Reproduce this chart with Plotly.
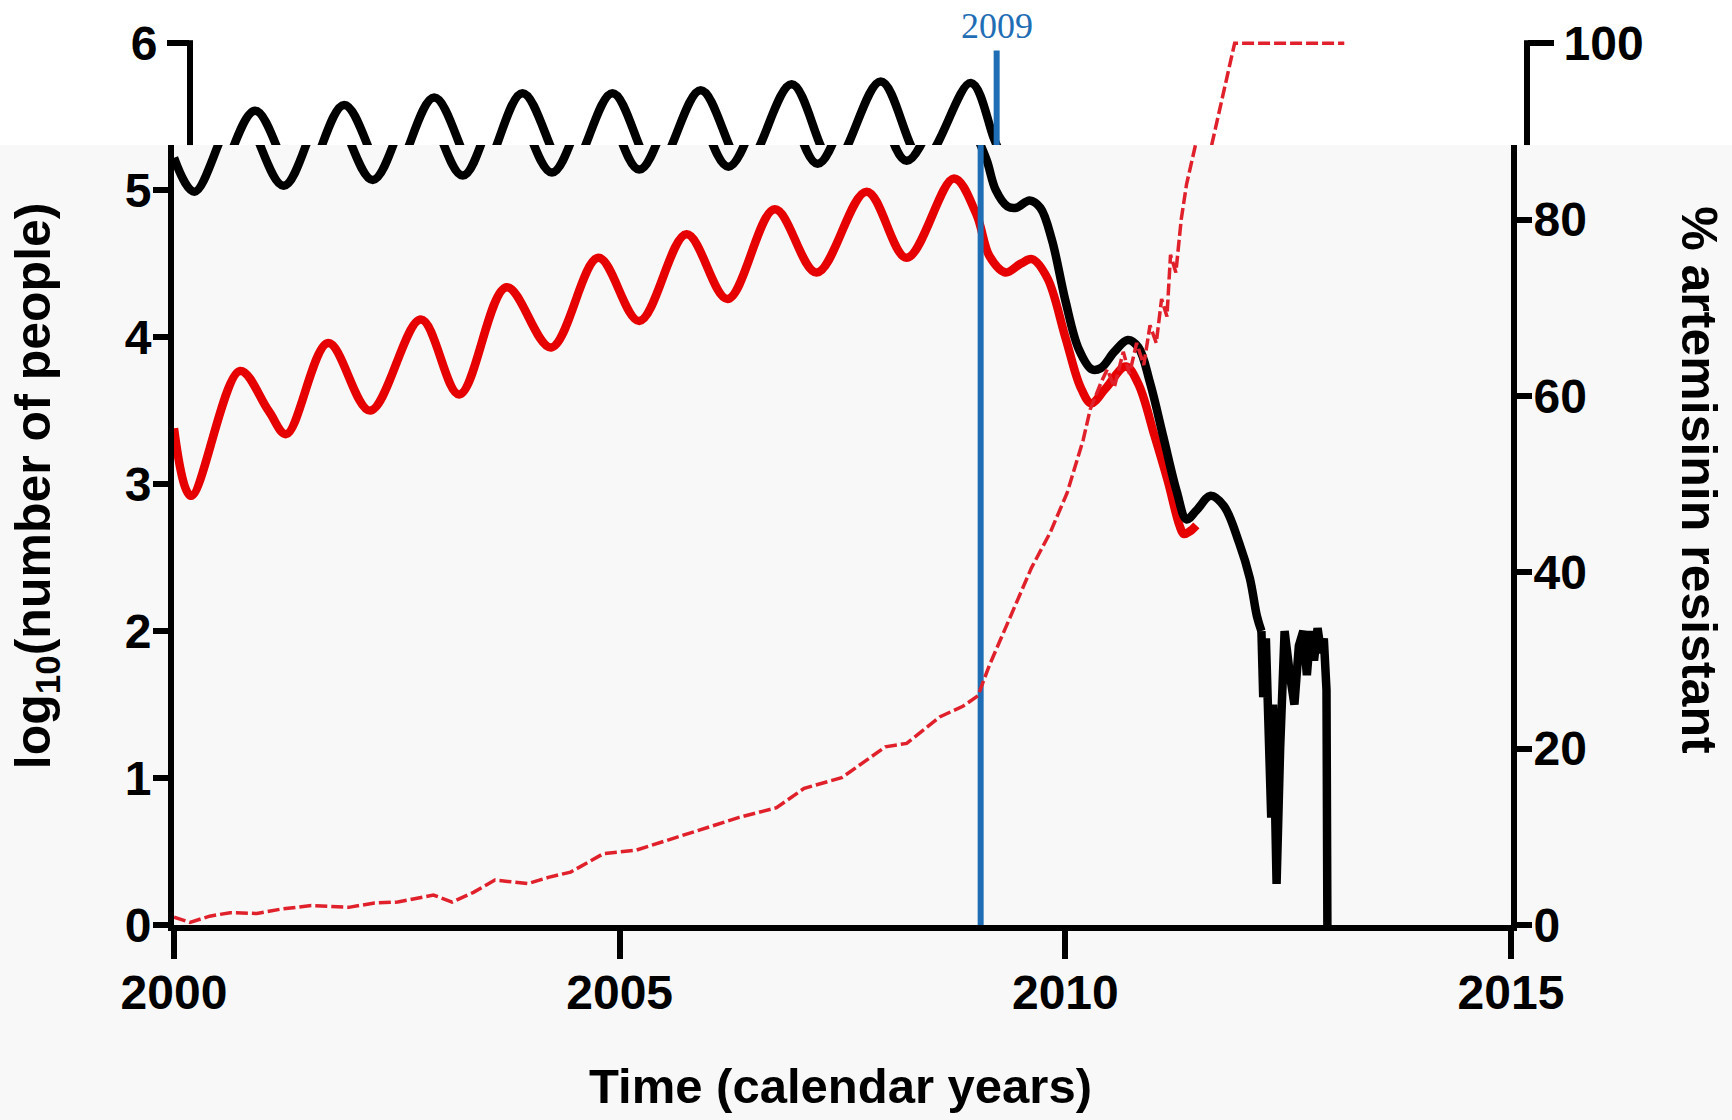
import plotly.graph_objects as go

# ---------------- data ----------------
# total infected, log10(number of people) -- smooth part
black_years = [2000.00, 2000.23, 2000.73, 2001.23, 2001.73, 2002.23, 2002.74, 2003.24, 2003.73,
               2004.24, 2004.74, 2005.22, 2005.73, 2006.22, 2006.75, 2007.22, 2007.75, 2008.22,
               2008.76, 2009.02, 2009.12, 2009.22, 2009.35, 2009.45, 2009.60, 2009.72, 2009.85,
               2010.00, 2010.15, 2010.30, 2010.40, 2010.55, 2010.70, 2010.82, 2010.95, 2011.10,
               2011.25, 2011.36, 2011.47, 2011.63, 2011.78, 2011.95, 2012.07, 2012.15, 2012.20]
black_log = [5.22, 4.99, 5.54, 5.03, 5.58, 5.07, 5.63, 5.10, 5.66,
             5.12, 5.66, 5.14, 5.68, 5.16, 5.72, 5.18, 5.74, 5.20,
             5.73, 5.35, 5.20, 5.00, 4.89, 4.88, 4.93, 4.88, 4.66,
             4.25, 3.92, 3.78, 3.79, 3.90, 3.98, 3.93, 3.69, 3.32,
             2.95, 2.76, 2.82, 2.92, 2.85, 2.60, 2.36, 2.10, 2.00]
# noisy end of the same series
black_tail_years = [2012.20, 2012.22, 2012.25, 2012.28, 2012.31, 2012.33, 2012.37, 2012.41, 2012.46,
                    2012.52, 2012.57, 2012.62, 2012.67, 2012.71, 2012.75, 2012.79, 2012.83, 2012.87,
                    2012.90, 2012.93, 2012.94]
black_tail_log = [2.00, 1.55, 1.95, 1.45, 0.73, 1.50, 0.28, 1.20, 2.00,
                  1.70, 1.50, 1.90, 2.00, 1.70, 2.00, 1.80, 2.02, 1.85,
                  1.95, 1.60, 0.00]

# red solid: log10(number of people), second population
red_years = [2000.00, 2000.19, 2000.74, 2001.06, 2001.26, 2001.73, 2002.20, 2002.77, 2003.20,
             2003.73, 2004.23, 2004.76, 2005.22, 2005.75, 2006.21, 2006.74, 2007.21, 2007.77,
             2008.22, 2008.75, 2009.00, 2009.15, 2009.33, 2009.50, 2009.63, 2009.80, 2010.00,
             2010.17, 2010.29, 2010.45, 2010.68, 2010.82, 2011.00, 2011.15, 2011.28, 2011.33,
             2011.40, 2011.47]
red_log = [3.38, 2.92, 3.77, 3.50, 3.34, 3.96, 3.50, 4.12, 3.61,
           4.34, 3.93, 4.54, 4.11, 4.70, 4.26, 4.87, 4.44, 4.99,
           4.54, 5.08, 4.84, 4.55, 4.44, 4.50, 4.53, 4.40, 4.00,
           3.66, 3.55, 3.65, 3.80, 3.68, 3.33, 3.02, 2.72, 2.66,
           2.68, 2.72]

# red dashed: % artemisinin resistant (right axis)
res_years = [2000.00, 2000.18, 2000.40, 2000.63, 2000.93, 2001.20, 2001.54, 2001.96, 2002.25,
             2002.51, 2002.91, 2003.12, 2003.36, 2003.60, 2003.97, 2004.20, 2004.45, 2004.82,
             2005.19, 2005.50, 2005.79, 2006.05, 2006.34, 2006.76, 2007.07, 2007.49, 2007.75,
             2007.98, 2008.22, 2008.59, 2008.85, 2009.02, 2009.15, 2009.30, 2009.45, 2009.62,
             2009.83, 2010.02, 2010.20, 2010.28, 2010.40, 2010.47, 2010.55, 2010.65, 2010.72,
             2010.80, 2010.88, 2010.95, 2011.02, 2011.08, 2011.14, 2011.18, 2011.24, 2011.30,
             2011.36, 2011.43, 2011.52, 2011.60, 2011.66, 2011.72, 2012.95]
res_pct = [0.9, 0.3, 1.0, 1.4, 1.3, 1.8, 2.2, 2.0, 2.5,
           2.6, 3.4, 2.6, 3.7, 5.1, 4.7, 5.4, 6.0, 8.1,
           8.5, 9.5, 10.4, 11.2, 12.2, 13.3, 15.5, 16.7, 18.5,
           20.2, 20.6, 23.6, 24.8, 26.0, 29.5, 33.0, 36.5, 40.5,
           44.5, 49.0, 55.0, 58.5, 61.5, 63.0, 61.0, 65.0, 62.5,
           66.0, 63.5, 68.0, 66.0, 71.0, 69.0, 76.0, 74.0, 80.0,
           84.0, 87.0, 91.0, 94.5, 97.5, 100.0, 100.0]

marker_year = [2009.05, 2009.05]
marker_log = [0.0, 5.95]
marker_label = "2009"

x_ticks = [2000, 2005, 2010, 2015]
left_ticks = [0, 1, 2, 3, 4, 5]
left_top_ticks = [6]
right_ticks = [0, 20, 40, 60, 80]
right_top_ticks = [100]

# ---------------- layout geometry ----------------
W, H = 1732, 1120
L = 174            # x of 2000
R = 1511           # x of 2015 (lower panel)
SHIFT = 16         # the top strip is offset to the right
Y0 = 924.6         # pixel of 0
UNIT = 146.9       # pixels per log unit
TOP = 24
BND = 145          # boundary between white strip and grey panel
plot_w = R + SHIFT - L
plot_h = Y0 - TOP
yb = (Y0 - BND) / UNIT
ytop = (Y0 - TOP) / UNIT
dlx = [0, (R - L) / plot_w]
dtx = [SHIFT / plot_w, 1]
dly = [0, (Y0 - BND) / plot_h]
dty = [dly[1], 1]

BLACK = "#000000"
RED = "#e60000"
DRED = "#e0202a"
BLUE = "#1f6eb5"
FONT = "Liberation Sans"
LW = 6

fig = go.Figure()

for xa, ya, ya2 in (("x", "y", "y2"), ("x2", "y3", "y4")):
    fig.add_trace(go.Scatter(x=res_years, y=res_pct, xaxis=xa, yaxis=ya2, mode="lines",
                             line=dict(color=DRED, width=3.5, dash="12px,4px"), hoverinfo="skip"))
    fig.add_trace(go.Scatter(x=red_years, y=red_log, xaxis=xa, yaxis=ya, mode="lines",
                             line=dict(color=RED, width=8.5, shape="spline", smoothing=1.0), hoverinfo="skip"))
    fig.add_trace(go.Scatter(x=black_years, y=black_log, xaxis=xa, yaxis=ya, mode="lines",
                             line=dict(color=BLACK, width=8.5, shape="spline", smoothing=1.0), hoverinfo="skip"))
    fig.add_trace(go.Scatter(x=black_tail_years, y=black_tail_log, xaxis=xa, yaxis=ya, mode="lines",
                             line=dict(color=BLACK, width=8.5), hoverinfo="skip"))
    fig.add_trace(go.Scatter(x=marker_year, y=marker_log, xaxis=xa, yaxis=ya, mode="lines",
                             line=dict(color=BLUE, width=6), hoverinfo="skip"))

tickfont = dict(family=FONT, size=48, color="black", weight="bold")
common = dict(showgrid=False, zeroline=False, ticks="outside", tickwidth=LW, tickcolor="black",
              tickfont=tickfont, linecolor="black", linewidth=LW)

def vpaper(v):
    return v * UNIT / plot_h

fig.update_layout(
    width=W, height=H,
    margin=dict(l=L, r=W - R - SHIFT, t=TOP, b=H - Y0),
    paper_bgcolor="#f8f8f8", plot_bgcolor="rgba(0,0,0,0)",
    showlegend=False,
    xaxis=dict(domain=dlx, range=[2000, 2015], anchor="y", tickvals=x_ticks, ticklen=28,
               ticklabelstandoff=-8, showline=True, **common),
    yaxis=dict(domain=dly, range=[0, yb], anchor="x", tickvals=left_ticks, ticklen=15,
               ticklabelstandoff=-8, showline=True, **common),
    yaxis2=dict(overlaying="y", side="right", anchor="x", range=[0, yb * 100 / 6],
                tickvals=right_ticks, ticklen=15, ticklabelstandoff=-8, showline=True, **common),
    xaxis2=dict(domain=dtx, range=[2000, 2015], anchor="y3", visible=False),
    yaxis3=dict(domain=dty, range=[yb, ytop], anchor="x2", tickvals=left_top_ticks, ticklen=22,
                showline=False, **common),
    yaxis4=dict(overlaying="y3", side="right", anchor="x2", range=[yb * 100 / 6, ytop * 100 / 6],
                tickvals=right_top_ticks, ticklen=26, showline=False, **common),
)

# white strip at the top and the offset axis lines in it
fig.add_shape(type="rect", xref="paper", yref="paper", x0=-0.3, x1=1.3, y0=dty[0], y1=1.2,
              fillcolor="white", line=dict(width=0), layer="below")
for xp in (dtx[0], dtx[1]):
    fig.add_shape(type="line", xref="paper", yref="paper", x0=xp, x1=xp,
                  y0=dty[0], y1=vpaper(6.0) + 3 / plot_h,
                  line=dict(color="black", width=LW))

fig.add_annotation(x=marker_year[0], y=6.12, xref="x2", yref="y3", text=marker_label,
                   showarrow=False, xanchor="center", yanchor="middle",
                   font=dict(family="Liberation Serif", size=36, color=BLUE))

title_font = dict(family=FONT, size=50, color="black")
fig.add_annotation(x=(36 - L) / plot_w, y=(Y0 - 486) / plot_h, xref="paper", yref="paper",
                   text="<b>log<sub>10</sub>(number of people)</b>", textangle=-90, showarrow=False,
                   xanchor="center", yanchor="middle", font=title_font)
fig.add_annotation(x=(1699 - L) / plot_w, y=(Y0 - 480) / plot_h, xref="paper", yref="paper",
                   text="<b>% artemisinin resistant</b>", textangle=90, showarrow=False,
                   xanchor="center", yanchor="middle", font=title_font)
fig.add_annotation(x=(840 - L) / plot_w, y=(Y0 - 1086) / plot_h, xref="paper", yref="paper",
                   text="<b>Time (calendar years)</b>", showarrow=False,
                   xanchor="center", yanchor="middle", font=dict(family=FONT, size=49, color="black"))

fig.write_html("out.html")
